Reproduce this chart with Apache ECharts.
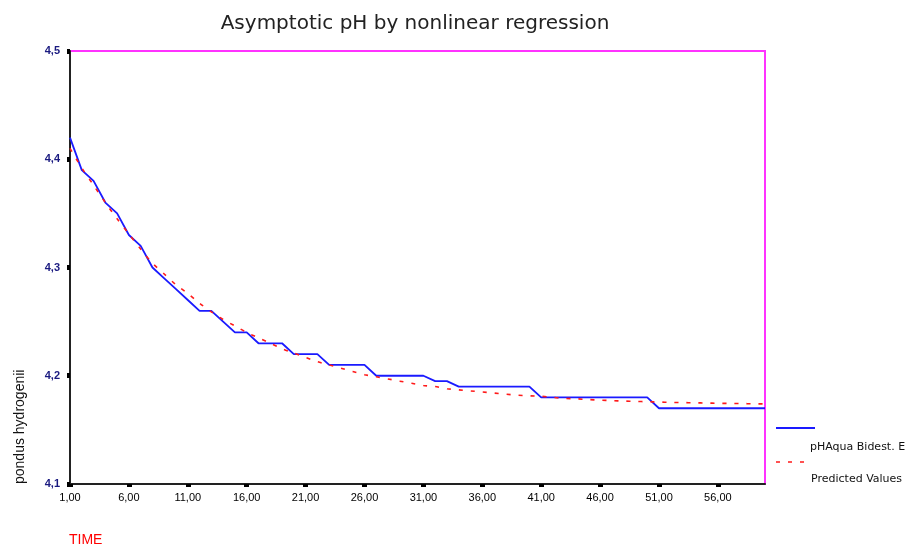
<!DOCTYPE html>
<html>
<head>
<meta charset="utf-8">
<script src="https://cdn.jsdelivr.net/npm/echarts@6/dist/echarts.min.js"></script>
<style>html,body{margin:0;padding:0;background:#fff}#c{width:919px;height:549px}</style>
</head>
<body>
<div id="c"></div>
<script>
var titleText = 'Asymptotic pH by nonlinear regression';
var xName = 'TIME';
var yName = 'pondus hydrogenii';
var seriesNames = ['pHAqua Bidest. E', 'Predicted Values'];
var times = [];
for (var t = 1; t <= 60; t++) times.push(t);
var observed = [4.42,4.39,4.38,4.36,4.35,4.33,4.32,4.30,4.29,4.28,
  4.27,4.26,4.26,4.25,4.24,4.24,4.23,4.23,4.23,4.22,
  4.22,4.22,4.21,4.21,4.21,4.21,4.20,4.20,4.20,4.20,
  4.20,4.195,4.195,4.19,4.19,4.19,4.19,4.19,4.19,4.19,
  4.18,4.18,4.18,4.18,4.18,4.18,4.18,4.18,4.18,4.18,
  4.17,4.17,4.17,4.17,4.17,4.17,4.17,4.17,4.17,4.17];
var predicted = [4.410,4.392,4.376,4.360,4.345,4.331,4.317,4.304,4.294,4.284,
  4.276,4.267,4.259,4.252,4.246,4.240,4.235,4.230,4.225,4.221,
  4.217,4.213,4.210,4.207,4.204,4.201,4.199,4.197,4.195,4.193,
  4.191,4.190,4.188,4.187,4.186,4.185,4.184,4.183,4.182,4.1815,
  4.181,4.180,4.179,4.1787,4.178,4.1775,4.177,4.1766,4.1763,4.176,
  4.1757,4.1754,4.1752,4.175,4.1748,4.1746,4.1744,4.1743,4.1741,4.174];
var yMin = 4.1, yMax = 4.5, yStep = 0.1;

var chart = echarts.init(document.getElementById('c'), null, {renderer: 'canvas'});
var labelFont = 'Liberation Sans, Arial, sans-serif';
var dvFont = 'DejaVu Sans, sans-serif';
chart.setOption({
  animation: false,
  grid: {left: 70, right: 154, top: 51, bottom: 65, show: true, borderColor: '#ff33ff', borderWidth: 2, backgroundColor: '#fff'},
  xAxis: {
    type: 'category', data: times, boundaryGap: false,
    axisLine: {lineStyle: {color: '#222', width: 2}},
    axisTick: {interval: 4, length: 3, lineStyle: {color: '#000', width: 5}},
    axisLabel: {interval: 4, margin: 8, color: '#000', fontFamily: labelFont, fontSize: 11,
      formatter: function (v) { return Number(v).toFixed(2).replace('.', ','); }},
    splitLine: {show: false}
  },
  yAxis: {
    type: 'value', min: yMin, max: yMax, interval: yStep,
    axisLine: {show: true, lineStyle: {color: '#222', width: 2}},
    axisTick: {show: true, length: 3, lineStyle: {color: '#000', width: 5}},
    axisLabel: {margin: 10, color: '#1a1a80', fontFamily: labelFont, fontSize: 11, fontWeight: 'bold',
      formatter: function (v) { return v.toFixed(1).replace('.', ','); }},
    splitLine: {show: false}
  },
  series: [
    {name: seriesNames[0], type: 'line', data: observed, showSymbol: false, z: 3,
      lineStyle: {color: '#1a1aff', width: 1.8}},
    {name: seriesNames[1], type: 'line', data: predicted, showSymbol: false, smooth: 0.3, z: 4,
      lineStyle: {color: '#ff1a1a', width: 1.6, type: [4, 8]}}
  ],
  graphic: [
    {type: 'text', x: 415, y: 24, style: {text: titleText, fill: '#222', font: '20px ' + dvFont, textAlign: 'center', textVerticalAlign: 'middle'}},
    {type: 'text', x: 69, y: 540, style: {text: xName, fill: '#ff0000', font: '14px ' + labelFont, textVerticalAlign: 'middle'}},
    {type: 'text', x: 20, y: 484, rotation: Math.PI / 2, style: {text: yName, fill: '#111', font: '14px ' + labelFont, textAlign: 'left', textVerticalAlign: 'middle'}},
    {type: 'line', shape: {x1: 776, y1: 428, x2: 815, y2: 428}, style: {stroke: '#1a1aff', lineWidth: 1.8}},
    {type: 'text', x: 810, y: 447, style: {text: seriesNames[0], fill: '#111', font: '11px ' + dvFont, textVerticalAlign: 'middle'}},
    {type: 'line', shape: {x1: 776, y1: 462, x2: 808, y2: 462}, style: {stroke: '#ff1a1a', lineWidth: 1.6, lineDash: [4, 8]}},
    {type: 'text', x: 811, y: 479, style: {text: seriesNames[1], fill: '#111', font: '11px ' + dvFont, textVerticalAlign: 'middle'}}
  ]
});
</script>
</body>
</html>
